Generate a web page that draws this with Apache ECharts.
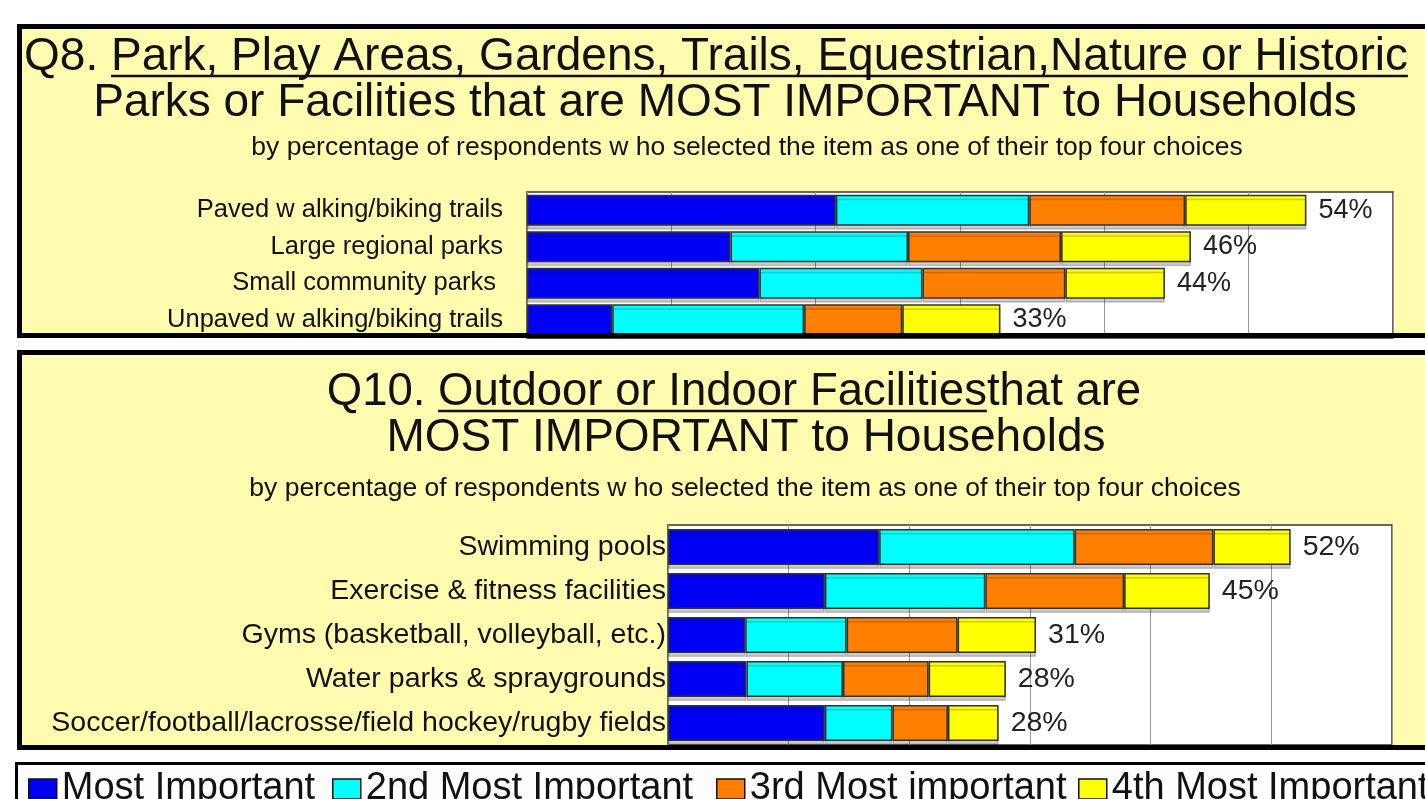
<!DOCTYPE html>
<html>
<head>
<meta charset="utf-8">
<script src="https://cdn.jsdelivr.net/npm/echarts@6/dist/echarts.min.js"></script>
<style>
  html, body { margin: 0; padding: 0; background: #fff; }
  #main { width: 1425px; height: 799px; }
</style>
</head>
<body>
<div id="main"></div>
<script>
// data (percent of respondents)
let levelNames = ['Most Important', '2nd Most Important', '3rd Most important', '4th Most Important'];
let levelColors = ['#0000F5', '#00FFFF', '#FF8000', '#FFFF00'];

let q8Items = ['Paved w alking/biking trails', 'Large regional parks', 'Small community parks ', 'Unpaved w alking/biking trails'];
let q8Most = [21.4, 14.1, 16.1, 5.9];
let q8Second = [13.4, 12.3, 11.3, 13.3];
let q8Third = [10.8, 10.6, 9.9, 6.8];
let q8Fourth = [8.4, 9.0, 6.9, 6.8];
let q8Totals = [54, 46, 44, 33];

let q10Items = ['Swimming pools', 'Exercise & fitness facilities', 'Gyms (basketball, volleyball, etc.)', 'Water parks & spraygrounds', 'Soccer/football/lacrosse/field hockey/rugby fields'];
let q10Most = [17.5, 13.0, 6.4, 6.5, 13.0];
let q10Second = [16.2, 13.3, 8.4, 8.0, 5.6];
let q10Third = [11.5, 11.5, 9.2, 7.1, 4.6];
let q10Fourth = [6.4, 7.1, 6.5, 6.4, 4.2];
let q10Totals = [52, 45, 31, 28, 28];

let axisTicks = [0, 10, 20, 30, 40, 50, 60];

const FONT = '"Liberation Sans", Arial, sans-serif';
const PANEL = '#FFFCB0';
const INK = '#111';

let measureCtx = document.createElement('canvas').getContext('2d');
function textW(str, size) {
    measureCtx.font = size + 'px ' + FONT;
    return measureCtx.measureText(str).width;
}

// centred title line, with an underline under part of it
function titleLine(cx, cy, size, pre, under, post) {
    let full = pre + under + post;
    let w = textW(full, size);
    let x0 = cx - w / 2 + textW(pre, size);
    let x1 = x0 + textW(under, size);
    return [
        {type: 'text', z: 20, style: {x: cx, y: cy, text: full, align: 'center', verticalAlign: 'middle',
            font: size + 'px ' + FONT, fill: INK}},
        {type: 'line', z: 20, shape: {x1: x0, y1: cy + 19, x2: x1, y2: cy + 19},
            style: {stroke: INK, lineWidth: 2.5}}
    ];
}
function plainLine(cx, cy, size, str) {
    return {type: 'text', z: 20, style: {x: cx, y: cy, text: str, align: 'center', verticalAlign: 'middle',
        font: size + 'px ' + FONT, fill: INK}};
}

let myChart = echarts.init(document.getElementById('main'));

function buildSeries(stack, axisIdx, values, totals, gap, labelSize) {
    return values.map(function (vals, i) {
        let s = {
            name: levelNames[i],
            type: 'bar',
            stack: stack,
            xAxisIndex: axisIdx,
            yAxisIndex: axisIdx,
            data: vals,
            barCategoryGap: gap,
            itemStyle: {
                color: levelColors[i],
                borderColor: '#333',
                borderWidth: 1.5,
                shadowColor: 'rgba(0,0,0,0.2)',
                shadowOffsetY: 4,
                shadowBlur: 0
            }
        };
        if (i === values.length - 1) {
            s.label = {
                show: true,
                position: 'right',
                distance: 12,
                fontSize: labelSize,
                fontFamily: FONT,
                color: '#222',
                formatter: function (p) { return totals[p.dataIndex] + '%'; }
            };
        }
        return s;
    });
}

function valueAxis(idx) {
    return {
        type: 'value', gridIndex: idx, min: axisTicks[0], max: axisTicks[axisTicks.length - 1], interval: 10,
        axisLabel: {show: false}, axisLine: {show: false}, axisTick: {show: false},
        splitLine: {show: true, lineStyle: {color: '#999', width: 1}}
    };
}
function catAxis(idx, items, size, margin) {
    return {
        type: 'category', gridIndex: idx, data: items, inverse: true,
        axisLine: {show: false}, axisTick: {show: false},
        axisLabel: {fontSize: size, fontFamily: FONT, color: INK, margin: margin}
    };
}

let graphics = [
    // panel backgrounds
    {type: 'rect', z: -10, shape: {x: 19.5, y: 26.5, width: 1440, height: 309}, style: {fill: PANEL}},
    {type: 'rect', z: -10, shape: {x: 19.5, y: 352.5, width: 1440, height: 395}, style: {fill: PANEL}},
    {type: 'rect', z: -10, shape: {x: 16.5, y: 763.5, width: 1450, height: 60}, style: {fill: '#FDFDFD', stroke: '#000', lineWidth: 3}},
    // panel frames on top of the plots
    {type: 'rect', z: 50, shape: {x: 19.5, y: 26.5, width: 1440, height: 309}, style: {fill: null, stroke: '#000', lineWidth: 5}},
    {type: 'rect', z: 50, shape: {x: 19.5, y: 352.5, width: 1440, height: 395}, style: {fill: null, stroke: '#000', lineWidth: 5}}
];
graphics = graphics
    .concat(titleLine(716, 57, 46, 'Q8. ', 'Park, Play Areas, Gardens, Trails, Equestrian,Nature or Historic', ''))
    .concat([plainLine(725, 103, 46, 'Parks or Facilities that are MOST IMPORTANT to Households'),
             plainLine(747, 148, 26.5, 'by percentage of respondents w ho selected the item as one of their top four choices')])
    .concat(titleLine(734, 392, 45.5, 'Q10. ', 'Outdoor or Indoor Facilities', 'that are'))
    .concat([plainLine(746, 438, 46, 'MOST IMPORTANT to Households'),
             plainLine(745, 489, 26.5, 'by percentage of respondents w ho selected the item as one of their top four choices')]);

let legendLeft = [28, 332, 716, 1078];

let option = {
    animation: false,
    backgroundColor: '#fff',
    textStyle: {fontFamily: FONT},
    graphic: graphics,
    legend: levelNames.map(function (name, i) {
        return {
            data: [name], left: legendLeft[i], top: 770, padding: 0,
            itemWidth: 28, itemHeight: 20, selectedMode: false, icon: 'rect',
            itemStyle: {borderColor: '#111', borderWidth: 1.5, shadowColor: 'rgba(0,0,0,0)', shadowOffsetY: 0},
            textStyle: {fontSize: 38, color: INK, fontFamily: FONT}
        };
    }),
    grid: [
        {left: 527, top: 192, width: 866, height: 146, show: true, backgroundColor: '#fff', borderColor: '#333', borderWidth: 1.5},
        {left: 668, top: 525, width: 724, height: 220, show: true, backgroundColor: '#fff', borderColor: '#333', borderWidth: 1.5}
    ],
    xAxis: [valueAxis(0), valueAxis(1)],
    yAxis: [catAxis(0, q8Items, 25.5, 24), catAxis(1, q10Items, 28.5, 2)],
    series: buildSeries('q8', 0, [q8Most, q8Second, q8Third, q8Fourth], q8Totals, '15%', 27)
        .concat(buildSeries('q10', 1, [q10Most, q10Second, q10Third, q10Fourth], q10Totals, '18%', 28.5))
};
myChart.setOption(option);
</script>
</body>
</html>
